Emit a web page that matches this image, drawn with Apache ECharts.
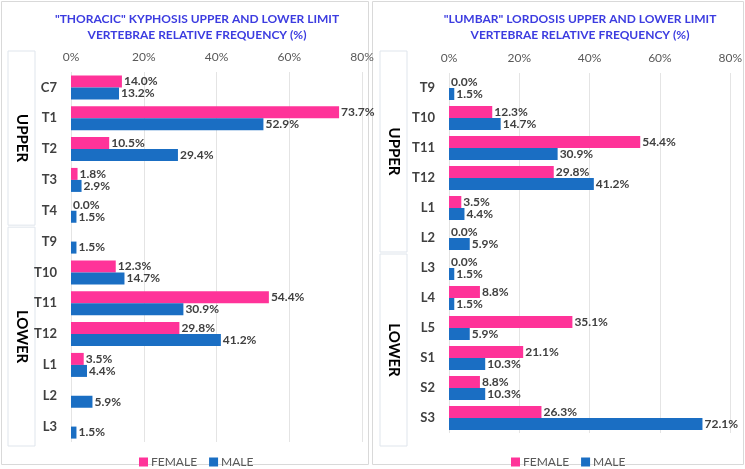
<!DOCTYPE html>
<html>
<head>
<meta charset="utf-8">
<script src="https://cdn.jsdelivr.net/npm/echarts@6/dist/echarts.min.js"></script>
<style>
  html, body { margin: 0; padding: 0; background: #fff; }
  #chart { width: 745px; height: 469px; }
</style>
</head>
<body>
<div id="chart"></div>
<script>
// 胸椎后凸 (左图)
const thoracicCats = ['C7', 'T1', 'T2', 'T3', 'T4', 'T9', 'T10', 'T11', 'T12', 'L1', 'L2', 'L3'];
const thoracicFemale = [14.0, 73.7, 10.5, 1.8, 0.0, null, 12.3, 54.4, 29.8, 3.5, null, null];
const thoracicMale = [13.2, 52.9, 29.4, 2.9, 1.5, 1.5, 14.7, 30.9, 41.2, 4.4, 5.9, 1.5];
const thoracicUpperCount = 5;

// 腰椎前凸 (右图)
const lumbarCats = ['T9', 'T10', 'T11', 'T12', 'L1', 'L2', 'L3', 'L4', 'L5', 'S1', 'S2', 'S3'];
const lumbarFemale = [0.0, 12.3, 54.4, 29.8, 3.5, 0.0, 0.0, 8.8, 35.1, 21.1, 8.8, 26.3];
const lumbarMale = [1.5, 14.7, 30.9, 41.2, 4.4, 5.9, 1.5, 1.5, 5.9, 10.3, 10.3, 72.1];
const lumbarUpperCount = 6;

const xTicks = [0, 20, 40, 60, 80];

const FONT = 'Lato, "Open Sans", sans-serif';
const PINK = '#FF3399';
const BLUE = '#1A6EC3';

const grids = [
    { left: 71, width: 291, top: 72, height: 370 },
    { left: 449, width: 285, top: 73, height: 360 }
];

const chart = echarts.init(document.getElementById('chart'));

function xAxisFor(idx) {
    return {
        type: 'value',
        gridIndex: idx,
        position: 'top',
        min: xTicks[0],
        max: xTicks[xTicks.length - 1],
        interval: 20,
        axisLine: { show: false },
        axisTick: { show: false },
        axisLabel: { formatter: '{value}%', color: '#595959', fontSize: 12, fontFamily: FONT, margin: 9 },
        splitLine: { show: true, lineStyle: { color: '#e4e4e4', width: 1 } }
    };
}

function yAxisFor(idx, cats) {
    return {
        type: 'category',
        gridIndex: idx,
        data: cats,
        inverse: true,
        axisLine: { show: false },
        axisTick: { show: false },
        axisLabel: { color: '#404040', fontSize: 13, fontWeight: 'bold', fontFamily: FONT, margin: 14 }
    };
}

function barSeries(name, idx, data, color) {
    return {
        name: name,
        type: 'bar',
        xAxisIndex: idx,
        yAxisIndex: idx,
        data: data,
        barWidth: 12,
        barGap: '0%',
        itemStyle: { color: color },
        label: {
            show: true,
            position: 'right',
            distance: 2,
            color: '#404040',
            fontSize: 12,
            fontWeight: 'bold',
            fontFamily: FONT,
            formatter: (p) => p.value == null ? '' : p.value.toFixed(1) + '%'
        }
    };
}

// 左侧分组框 (UPPER / LOWER)
function groupGraphics(grid, count, upperCount, boxX) {
    const band = grid.height / count;
    const split = grid.top + band * upperCount;
    const top = 50, bottom = 447, w = 27;
    const out = [];
    [[top, split, 'UPPER'], [split, bottom, 'LOWER']].forEach(([y0, y1, txt]) => {
        out.push({
            type: 'rect',
            shape: { x: boxX, y: y0 + 1, width: w, height: y1 - y0 - 2 },
            style: { fill: '#fff', stroke: '#dfe5ec', lineWidth: 1 }
        });
        out.push({
            type: 'text',
            x: boxX + w / 2,
            y: (y0 + y1) / 2,
            rotation: -Math.PI / 2,
            style: {
                text: txt,
                fill: '#000',
                font: 'bold 15px ' + FONT,
                align: 'center',
                verticalAlign: 'middle'
            }
        });
    });
    return out;
}

const titleStyle = { color: '#3c3ce0', fontSize: 12, fontWeight: 'bold', fontFamily: FONT, lineHeight: 16 };
const legendBase = {
    data: ['FEMALE', 'MALE'],
    top: 451,
    itemWidth: 9,
    itemHeight: 9,
    itemGap: 12,
    icon: 'rect',
    textStyle: { color: '#595959', fontSize: 12, fontFamily: FONT, padding: [0, 0, 0, -2] }
};

const option = {
    animation: false,
    title: [
        {
            text: '"THORACIC" KYPHOSIS UPPER AND LOWER LIMIT\nVERTEBRAE RELATIVE FREQUENCY (%)',
            left: 192,
            top: 6,
            textAlign: 'center',
            textStyle: titleStyle
        },
        {
            text: '"LUMBAR" LORDOSIS UPPER AND LOWER LIMIT\nVERTEBRAE RELATIVE FREQUENCY (%)',
            left: 575,
            top: 6,
            textAlign: 'center',
            textStyle: titleStyle
        }
    ],
    legend: [
        Object.assign({ left: 134 }, legendBase),
        Object.assign({ left: 506 }, legendBase)
    ],
    grid: grids,
    xAxis: [xAxisFor(0), xAxisFor(1)],
    yAxis: [yAxisFor(0, thoracicCats), yAxisFor(1, lumbarCats)],
    series: [
        barSeries('FEMALE', 0, thoracicFemale, PINK),
        barSeries('MALE', 0, thoracicMale, BLUE),
        barSeries('FEMALE', 1, lumbarFemale, PINK),
        barSeries('MALE', 1, lumbarMale, BLUE)
    ],
    graphic: [
        { type: 'rect', shape: { x: 1.5, y: 1.5, width: 367, height: 463 }, style: { fill: 'none', stroke: '#d9d9d9', lineWidth: 1 } },
        { type: 'rect', shape: { x: 372.5, y: 1.5, width: 371, height: 463 }, style: { fill: 'none', stroke: '#d9d9d9', lineWidth: 1 } }
    ]
        .concat(groupGraphics(grids[0], thoracicCats.length, thoracicUpperCount, 8))
        .concat(groupGraphics(grids[1], lumbarCats.length, lumbarUpperCount, 380))
};

chart.setOption(option);
</script>
</body>
</html>
